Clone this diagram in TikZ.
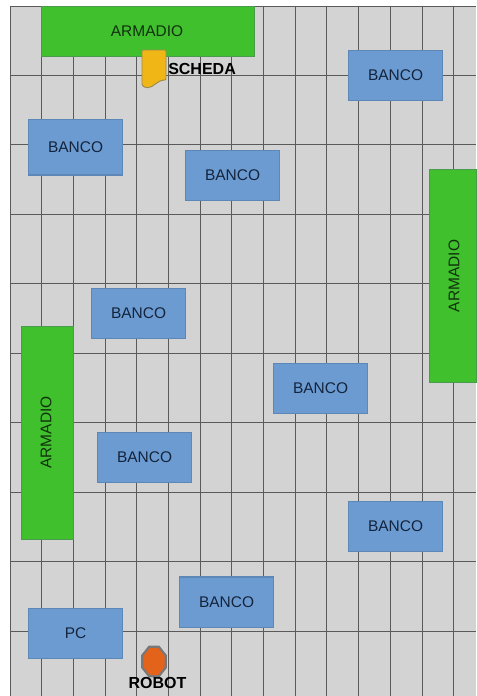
\documentclass[tikz,border=0pt]{standalone}
\usepackage{fontspec}
\setmainfont{Liberation Sans}
\usetikzlibrary{shapes.geometric}
\definecolor{gridbg}{HTML}{D3D3D3}
\definecolor{gridln}{HTML}{5A5A5A}
\definecolor{bancof}{HTML}{6C9BD2}
\definecolor{bancod}{HTML}{5C87B6}
\definecolor{armf}{HTML}{3FC02C}
\definecolor{armd}{HTML}{4A9A50}
\definecolor{bancot}{HTML}{14243C}
\definecolor{armt}{HTML}{12300F}
\definecolor{schedaf}{HTML}{F0B616}
\definecolor{schedad}{HTML}{9A8A50}
\definecolor{robotf}{HTML}{E3631A}
\definecolor{robotd}{HTML}{77787A}
\tikzset{
  x=0.75pt,y=-0.75pt,
  gridline/.style={draw=gridln,line width=0.9pt},
  block/.style={rectangle,inner sep=0pt,outer sep=0pt,font=\fontsize{11.6pt}{13pt}\selectfont},
  bancobox/.style={block,fill=bancof,draw=bancod,line width=0.8pt,text=bancot,minimum width=70.6pt,minimum height=37.6pt},
  armbox/.style={block,fill=armf,draw=armd,line width=0.6pt,text=armt},
  tag/.style={font=\bfseries\fontsize{12pt}{14pt}\selectfont,text=black,inner sep=0pt},
}
\begin{document}
\begin{tikzpicture}
\useasboundingbox (0,0) rectangle (476,696);
\fill[white] (0,0) rectangle (476,696);
\fill[gridbg] (10,6) rectangle (476,696);
\foreach \i in {0,...,14} \draw[gridline] ({floor(10+31.7*\i)+0.5},6) -- ({floor(10+31.7*\i)+0.5},696);
\foreach \j in {0,...,9} \draw[gridline] (10,{floor(6+69.45*\j)+0.5}) -- (476,{floor(6+69.45*\j)+0.5});
\node[armbox,minimum width=160pt,minimum height=37.5pt,anchor=north west] (armTop) at (41,6) {};
\node[font=\fontsize{11.6pt}{13pt}\selectfont,text=armt,inner sep=0pt] (armTopL) at (147,31) {ARMADIO};
\node[armbox,minimum width=35.5pt,minimum height=160pt,anchor=north west] (armRight) at (429,169) {};
\node[rotate=90,font=\fontsize{11.6pt}{13pt}\selectfont,text=armt,inner sep=0pt] (armRightL) at (454,276) {ARMADIO};
\node[armbox,minimum width=39pt,minimum height=160pt,anchor=north west] (armLeft) at (21,326) {};
\node[rotate=90,font=\fontsize{11.6pt}{13pt}\selectfont,text=armt,inner sep=0pt] (armLeftL) at (46,432.5) {ARMADIO};
\node[bancobox,anchor=north west] (b1) at (348.5,50.5) {BANCO};
\node[bancobox,anchor=north west,minimum height=41.6pt] (b2) at (28.5,119.5) {BANCO};
\node[bancobox,anchor=north west] (b3) at (185.5,150.5) {BANCO};
\node[bancobox,anchor=north west] (b4) at (91.5,288.5) {BANCO};
\node[bancobox,anchor=north west] (b5) at (273.5,363.5) {BANCO};
\node[bancobox,anchor=north west] (b6) at (97.5,432.5) {BANCO};
\node[bancobox,anchor=north west] (b7) at (348.5,501.5) {BANCO};
\node[bancobox,anchor=north west] (b8) at (179.5,577) {BANCO};
\node[bancobox,anchor=north west] (pc) at (28.5,608.5) {PC};
\draw[fill=schedaf,draw=schedad,line width=0.7pt,rounded corners=0.8pt] (142,50) -- (166,50) -- (166,80)
  .. controls (157,80) and (153,88) .. (147,87.5) .. controls (145,87.5) and (143,86) .. (142,85) -- cycle;
\node[tag,anchor=west] (scheda) at (168,69) {SCHEDA};
\node[regular polygon,regular polygon sides=8,fill=robotf,draw=robotd,line width=1.6pt,inner sep=0pt,minimum size=20pt,xscale=0.95,yscale=1.2] (robot) at (154,661.5) {};
\node[tag] (robotL) at (157.5,683) {ROBOT};
\end{tikzpicture}
\end{document}
